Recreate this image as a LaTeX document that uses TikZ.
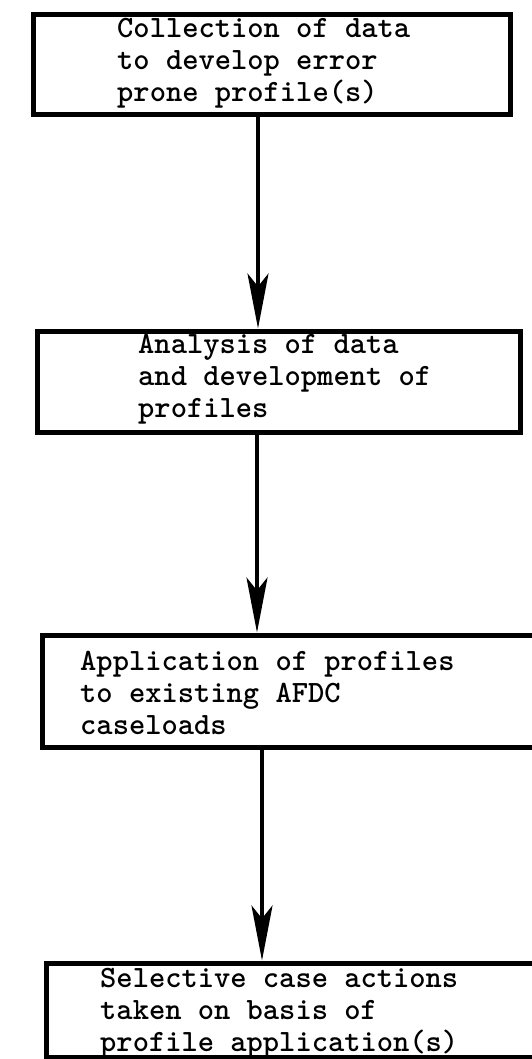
\documentclass[tikz,border=0pt]{standalone}
\usetikzlibrary{arrows.meta}
\begin{document}
\begin{tikzpicture}[x=1pt,y=-1pt,
  box/.style={draw=black, line width=5pt, rectangle, anchor=center, inner sep=0pt},
  txt/.style={align=left, anchor=north west, inner sep=0pt,
    font=\ttfamily\bfseries\fontsize{31}{31.8}\selectfont},
  arr/.style={line width=4pt, -{Stealth[length=55pt,width=21pt,inset=13pt]}}]
\useasboundingbox[fill=white] (0,0) rectangle (532,1059);
\node[box, minimum width=477pt, minimum height=100pt] (b1) at (271.5,65) {};
\node[txt] (t1) at (117,18) {Collection of data\\to develop error\\prone profile(s)};
\node[box, minimum width=483pt, minimum height=101pt] (b2) at (278.5,381.5) {};
\node[txt] (t2) at (138,334) {Analysis of data\\and development of\\profiles};
\node[box, minimum width=500pt, minimum height=112pt] (b3) at (292,691) {};
\node[txt] (t3) at (80,651) {Application of profiles\\to existing AFDC\\caseloads};
\node[box, minimum width=500pt, minimum height=94pt] (b4) at (296,1010) {};
\node[txt] (t4) at (100,968) {Selective case actions\\taken on basis of\\profile application(s)};
\coordinate (c1) at (258,0);
\coordinate (c2) at (257,0);
\coordinate (c3) at (262,0);
\draw[arr] (b1.south -| c1) -- (b2.north -| c1);
\draw[arr] (b2.south -| c2) -- (b3.north -| c2);
\draw[arr] (b3.south -| c3) -- (b4.north -| c3);
\end{tikzpicture}
\end{document}
